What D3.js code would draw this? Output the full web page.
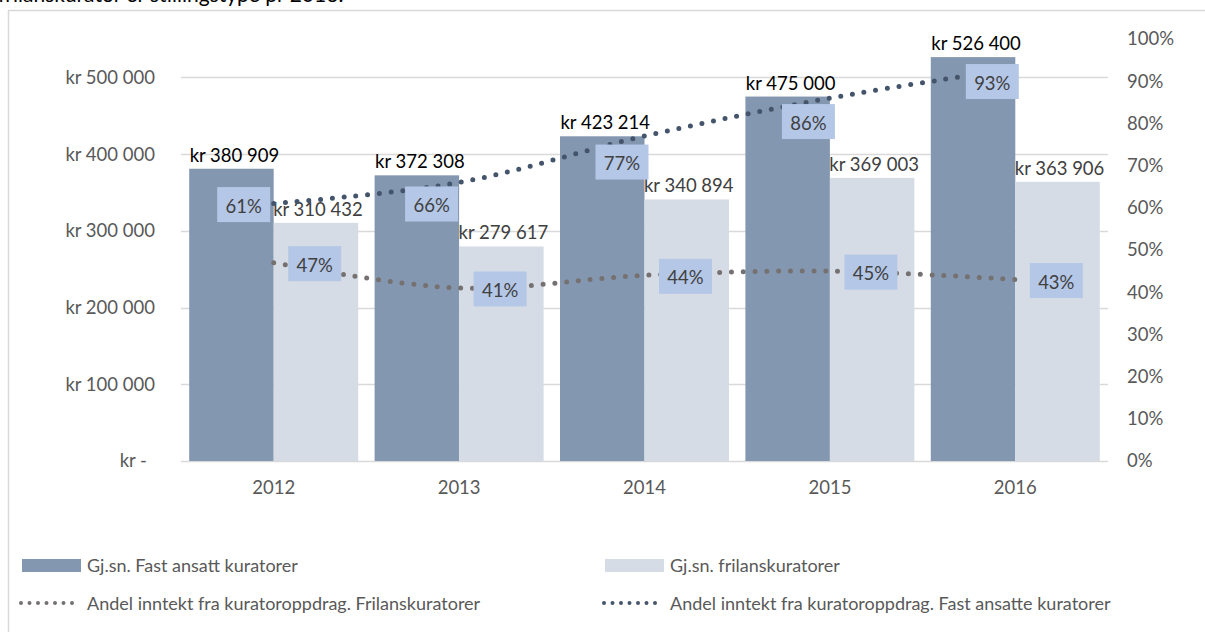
<!DOCTYPE html>
<html>
<head>
<meta charset="utf-8">
<script src="https://cdn.jsdelivr.net/npm/d3@7/dist/d3.min.js"></script>
<style>
  html, body { margin: 0; padding: 0; background: #fff; }
  svg { display: block; }
  text { font-family: Lato, "Open Sans", sans-serif; }
</style>
</head>
<body>
<svg id="chart" width="1205" height="632"></svg>
<script>
const years = ["2012", "2013", "2014", "2015", "2016"];
const fastAvg = [380909, 372308, 423214, 475000, 526400];
const frilansAvg = [310432, 279617, 340894, 369003, 363906];
const fastShare = [0.61, 0.66, 0.77, 0.86, 0.93];
const frilansShare = [0.47, 0.41, 0.44, 0.45, 0.43];
const leftTicks = [0, 100000, 200000, 300000, 400000, 500000];
const rightTicks = [0, 0.1, 0.2, 0.3, 0.4, 0.5, 0.6, 0.7, 0.8, 0.9, 1.0];
const seriesNames = [
  "Gj.sn. Fast ansatt kuratorer",
  "Gj.sn. frilanskuratorer",
  "Andel inntekt fra kuratoroppdrag. Frilanskuratorer",
  "Andel inntekt fra kuratoroppdrag. Fast ansatte kuratorer"
];
const titleText = "frilanskurator er stillingstype pr 2016.";

// layout: manual label offsets (pixels) of the fast-line data labels, as in the original
const fastLabelOffset = [[-30, 1], [-27.5, 21.5], [-22.5, 26], [-21.5, 23.5], [-23, 13]];
const friLabelOffset = [41, 1];

const C = {
  fastBar: "#8497b0", friBar: "#d6dce5",
  fastLine: "#44546a", friLine: "#767171",
  grid: "#d9d9d9", axisText: "#595959", labelBox: "#b4c7e7", labelText: "#404040"
};

const svg = d3.select("#chart");
const plot = { left: 181, right: 1108, top: 39, bottom: 461 };

// title (cut off at the top)
svg.append("text").attr("x", -2).attr("y", 2).attr("font-size", 21).attr("fill", "#000")
  .text(titleText);

// chart border
svg.append("rect").attr("x", 8.5).attr("y", 10.5).attr("width", 1210).attr("height", 640)
  .attr("fill", "#fff").attr("stroke", C.grid).attr("stroke-width", 1.5);

const x = d3.scaleBand().domain(years).range([plot.left, plot.right]).paddingInner(0).paddingOuter(0);
const yL = d3.scaleLinear().domain([0, 550000]).range([plot.bottom, plot.top]);
const yR = d3.scaleLinear().domain([0, 1]).range([plot.bottom, plot.top]);

const fmtKr = v => v === 0 ? "kr -" : "kr " + d3.format(",")(v).replace(/,/g, " ");

// gridlines
svg.append("g").selectAll("line").data(leftTicks).join("line")
  .attr("x1", plot.left).attr("x2", plot.right)
  .attr("y1", d => Math.round(yL(d)) + 0.5).attr("y2", d => Math.round(yL(d)) + 0.5)
  .attr("stroke", C.grid).attr("stroke-width", 1.5);

// left axis
const gL = svg.append("g").attr("transform", `translate(155,0)`)
  .call(d3.axisLeft(yL).tickValues(leftTicks).tickSize(0).tickPadding(0).tickFormat(fmtKr));
gL.select(".domain").remove();
gL.selectAll("text").attr("font-size", 18.5).attr("fill", C.axisText).attr("font-family", "Lato")
  .attr("dx", d => d === 0 ? -8 : 0);

// right axis
const gR = svg.append("g").attr("transform", `translate(1127,0)`)
  .call(d3.axisRight(yR).tickValues(rightTicks).tickSize(0).tickPadding(0).tickFormat(d3.format(".0%")));
gR.select(".domain").remove();
gR.selectAll("text").attr("font-size", 18.5).attr("fill", C.axisText).attr("font-family", "Lato");

// bottom axis
const gB = svg.append("g").attr("transform", `translate(0,${plot.bottom})`)
  .call(d3.axisBottom(x).tickSize(0).tickPadding(20));
gB.select(".domain").remove();
gB.selectAll("text").attr("font-size", 18.5).attr("fill", C.axisText).attr("font-family", "Lato");

// bars
const groupPad = 8.2;
const barW = (x.bandwidth() - 2 * groupPad) / 2;
const bars = svg.append("g");
bars.selectAll("rect.fast").data(years).join("rect").attr("class", "fast")
  .attr("x", d => x(d) + groupPad).attr("width", barW)
  .attr("y", (d, i) => yL(fastAvg[i])).attr("height", (d, i) => yL(0) - yL(fastAvg[i]))
  .attr("fill", C.fastBar);
bars.selectAll("rect.fri").data(years).join("rect").attr("class", "fri")
  .attr("x", d => x(d) + groupPad + barW).attr("width", barW)
  .attr("y", (d, i) => yL(frilansAvg[i])).attr("height", (d, i) => yL(0) - yL(frilansAvg[i]))
  .attr("fill", C.friBar);

// bar labels
bars.selectAll("text.fastl").data(years).join("text").attr("class", "fastl")
  .attr("x", d => x(d) + groupPad + barW / 2 + 3).attr("y", (d, i) => yL(fastAvg[i]) - 7)
  .attr("text-anchor", "middle").attr("font-size", 18.5).attr("fill", "#000")
  .text((d, i) => fmtKr(fastAvg[i]));
bars.selectAll("text.fril").data(years).join("text").attr("class", "fril")
  .attr("x", d => x(d) + groupPad + barW * 1.5 + 2).attr("y", (d, i) => yL(frilansAvg[i]) - 7)
  .attr("text-anchor", "middle").attr("font-size", 18.5).attr("fill", C.labelText)
  .text((d, i) => fmtKr(frilansAvg[i]));

// lines
const cx = d => x(d) + x.bandwidth() / 2;
const line = d3.line().curve(d3.curveCatmullRom.alpha(0.5));
function drawLine(vals, color) {
  svg.append("path")
    .attr("d", line(years.map((d, i) => [cx(d), yR(vals[i])])))
    .attr("fill", "none").attr("stroke", color).attr("stroke-width", 5)
    .attr("stroke-linecap", "round").attr("stroke-dasharray", "0 11.8");
}
drawLine(frilansShare, C.friLine);
drawLine(fastShare, C.fastLine);

// percent labels
function drawPctLabels(vals, offsetFn) {
  const g = svg.append("g");
  years.forEach((d, i) => {
    const [dx, dy] = offsetFn(i);
    const lx = cx(d) + dx, ly = yR(vals[i]) + dy;
    const t = g.append("text").attr("font-size", 18.5).attr("fill", C.labelText)
      .attr("text-anchor", "middle").attr("dominant-baseline", "central")
      .attr("x", lx).attr("y", ly + 1)
      .text(d3.format(".0%")(vals[i]));
    const w = 53, h = 35;
    g.insert("rect", "text").attr("x", lx - w / 2).attr("y", ly - h / 2).attr("width", w).attr("height", h)
      .attr("fill", C.labelBox);
  });
}
drawPctLabels(frilansShare, i => friLabelOffset);
drawPctLabels(fastShare, i => fastLabelOffset[i]);

// legend
const leg = svg.append("g");
const legItems = [
  { name: seriesNames[0], type: "bar", color: C.fastBar, sx: 22, tx: 87, y: 565 },
  { name: seriesNames[1], type: "bar", color: C.friBar, sx: 605, tx: 670, y: 565 },
  { name: seriesNames[2], type: "line", color: C.friLine, sx: 22, tx: 87, y: 603 },
  { name: seriesNames[3], type: "line", color: C.fastLine, sx: 605, tx: 670, y: 603 }
];
legItems.forEach(it => {
  if (it.type === "bar") {
    leg.append("rect").attr("x", it.sx).attr("y", it.y - 6).attr("width", 59).attr("height", 13).attr("fill", it.color);
  } else {
    leg.append("line").attr("x1", it.sx - 1).attr("x2", it.sx + 56).attr("y1", it.y).attr("y2", it.y)
      .attr("stroke", it.color).attr("stroke-width", 4).attr("stroke-linecap", "round")
      .attr("stroke-dasharray", "0 8.5");
  }
  leg.append("text").attr("x", it.tx).attr("y", it.y).attr("dominant-baseline", "central")
    .attr("font-size", 18).attr("fill", C.axisText).text(it.name);
});
</script>
</body>
</html>
